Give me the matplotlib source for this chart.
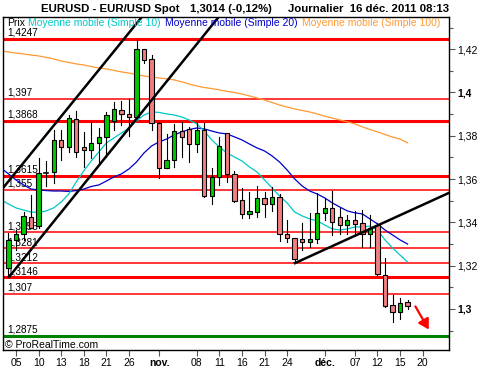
import numpy as np
import matplotlib
matplotlib.use("Agg")
import matplotlib.pyplot as plt
from matplotlib.patches import Rectangle

plt.rcParams['font.family'] = ['Liberation Sans', 'DejaVu Sans']

# daily candles, index 0 = 5 Oct 2011 (one step per trading day)
bar_idx = np.arange(-1, 53)
opens = [1.3188, 1.3319, 1.3345, 1.3426, 1.3385, 1.3633, 1.3631, 1.3781, 1.3750, 1.3876,
         1.3747, 1.3734, 1.3765, 1.3793, 1.3870, 1.3918, 1.3901, 1.3885, 1.4200, 1.4155,
         1.3858, 1.3653, 1.3687, 1.3821, 1.3830, 1.3761, 1.3825, 1.3523, 1.3611, 1.3812,
         1.3622, 1.3503, 1.3437, 1.3449, 1.3511, 1.3484, 1.3516, 1.3345, 1.3327, 1.3322,
         1.3311, 1.3322, 1.3442, 1.3465, 1.3424, 1.3387, 1.3410, 1.3396, 1.3345, 1.3387,
         1.3157, 1.3017, 1.2985, 1.3030]
highs = [1.3352, 1.3367, 1.3449, 1.3527, 1.3699, 1.3684, 1.3827, 1.3827, 1.3896, 1.3915,
         1.3816, 1.3862, 1.3837, 1.3911, 1.3954, 1.3961, 1.3970, 1.4242, 1.4201, 1.4173,
         1.3862, 1.3808, 1.3853, 1.3862, 1.3841, 1.3862, 1.3858, 1.3653, 1.3793, 1.3813,
         1.3637, 1.3558, 1.3542, 1.3568, 1.3542, 1.3564, 1.3531, 1.3411, 1.3328, 1.3396,
         1.3442, 1.3534, 1.3513, 1.3545, 1.3467, 1.3436, 1.3453, 1.3456, 1.3434, 1.3396,
         1.3234, 1.3065, 1.3049, 1.3042]
lows = [1.3148, 1.3273, 1.3319, 1.3373, 1.3373, 1.3570, 1.3581, 1.3688, 1.3724, 1.3703,
        1.3657, 1.3699, 1.3665, 1.3703, 1.3827, 1.3850, 1.3799, 1.3880, 1.4135, 1.3827,
        1.3606, 1.3649, 1.3656, 1.3703, 1.3680, 1.3724, 1.3519, 1.3484, 1.3573, 1.3588,
        1.3496, 1.3419, 1.3419, 1.3426, 1.3425, 1.3453, 1.3316, 1.3311, 1.3211, 1.3273,
        1.3286, 1.3306, 1.3413, 1.3342, 1.3346, 1.3346, 1.3339, 1.3286, 1.3286, 1.3157,
        1.3007, 1.2941, 1.2955, 1.3000]
closes = [1.3319, 1.3345, 1.3430, 1.3376, 1.3627, 1.3630, 1.3781, 1.3750, 1.3881, 1.3727,
          1.3733, 1.3768, 1.3793, 1.3896, 1.3922, 1.3899, 1.3885, 1.4200, 1.4149, 1.3858,
          1.3653, 1.3687, 1.3821, 1.3793, 1.3761, 1.3825, 1.3523, 1.3608, 1.3751, 1.3622,
          1.3501, 1.3437, 1.3453, 1.3511, 1.3484, 1.3516, 1.3345, 1.3327, 1.3230, 1.3311,
          1.3322, 1.3442, 1.3465, 1.3403, 1.3387, 1.3410, 1.3393, 1.3345, 1.3372, 1.3163,
          1.3015, 1.2985, 1.3026, 1.3014]

# moving averages
ma_idx = np.arange(-2, 53)
ma10 = [1.3504, 1.3485, 1.3467, 1.3457, 1.3448, 1.3446, 1.3453, 1.3467, 1.3494, 1.3531, 1.3587,
        1.3638, 1.3684, 1.3725, 1.3767, 1.3790, 1.3813, 1.3836, 1.3869, 1.3896, 1.3910,
        1.3908, 1.3901, 1.3896, 1.3887, 1.3873, 1.3855, 1.3822, 1.3781, 1.3748, 1.3721,
        1.3702, 1.3684, 1.3656, 1.3633, 1.3596, 1.3559, 1.3522, 1.3490, 1.3448, 1.3430,
        1.3416, 1.3407, 1.3388, 1.3370, 1.3365, 1.3370, 1.3379, 1.3379, 1.3383, 1.3365,
        1.3319, 1.3282, 1.3249, 1.3217]
ma20 = [1.3651, 1.3624, 1.3596, 1.3573, 1.3554, 1.3550, 1.3547, 1.3545, 1.3545, 1.3543, 1.3547,
        1.3554, 1.3566, 1.3573, 1.3591, 1.3610, 1.3624, 1.3647, 1.3679, 1.3721, 1.3753,
        1.3772, 1.3785, 1.3804, 1.3818, 1.3829, 1.3836, 1.3832, 1.3822, 1.3813, 1.3809,
        1.3795, 1.3781, 1.3762, 1.3744, 1.3730, 1.3707, 1.3679, 1.3642, 1.3601, 1.3568,
        1.3545, 1.3531, 1.3513, 1.3490, 1.3471, 1.3453, 1.3444, 1.3439, 1.3416, 1.3393,
        1.3365, 1.3342, 1.3319, 1.3300]
ma100 = [1.4192, 1.4187, 1.4182, 1.4178, 1.4173, 1.4169, 1.4162, 1.4155, 1.4145, 1.4139, 1.4132,
         1.4127, 1.4120, 1.4113, 1.4109, 1.4102, 1.4095, 1.4090, 1.4083, 1.4076, 1.4072,
         1.4067, 1.4063, 1.4058, 1.4049, 1.4039, 1.4030, 1.4023, 1.4018, 1.4012, 1.4005,
         1.4000, 1.3993, 1.3984, 1.3975, 1.3965, 1.3954, 1.3942, 1.3933, 1.3924, 1.3917,
         1.3910, 1.3901, 1.3891, 1.3882, 1.3873, 1.3864, 1.3855, 1.3841, 1.3829, 1.3818,
         1.3806, 1.3794, 1.3785, 1.3767]

# support / resistance levels
levels = [1.4247, 1.397, 1.3868, 1.3615, 1.355, 1.3355, 1.3281, 1.3212, 1.3146, 1.307]
level_labels = ['1,4247', '1,397', '1,3868', '1,3615', '1,355', '1,3355', '1,3281', '1,3212', '1,3146', '1,307']
thick_levels = [1.4247, 1.3868, 1.3615, 1.3146]
support = 1.2875

# trend lines (bar index, price)
trend_lines = [((-1.7, 1.3560), (17.2, 1.4370)),
               ((-0.93, 1.3148), (27.4, 1.4370)),
               ((37.05, 1.3212), (57.6, 1.3538))]
arrow_from = (52.85, 1.3023)
arrow_to = (55.0, 1.2894)

xtick_pos = [0, 3, 6, 9, 12, 15, 19, 24, 27, 30, 33, 36, 41, 45, 48, 51, 54]
xtick_lab = ['05', '10', '13', '18', '21', '26', 'nov.', '08', '11', '16', '21', '24',
             'déc.', '07', '12', '15', '20']
ytick_pos = [1.30, 1.32, 1.34, 1.36, 1.38, 1.40, 1.42]
ytick_lab = ['1,3', '1,32', '1,34', '1,36', '1,38', '1,4', '1,42']

GREEN = '#00C800'
PINK = '#F08080'
C10 = '#00C8C8'
C20 = '#0000C8'
C100 = '#FF9933'

fig = plt.figure(figsize=(5, 3.7), dpi=100)
ax = fig.add_axes([3 / 500, 20 / 370, 446 / 500, 333 / 370])
ax.set_xlim(-1.73, 57.5)
ax.set_ylim(1.28106, 1.43487)

# horizontal levels
for lv, lab in zip(levels, level_labels):
    lw = 2.2 if lv in thick_levels else 1.1
    ax.axhline(lv, color='red', lw=lw, zorder=1)
    ax.text(-1.2, lv + 0.0005, lab, fontsize=7.2, ha='left', va='bottom', zorder=1.5)
ax.axhline(support, color='#008000', lw=2.2, zorder=1)
ax.text(-1.2, support + 0.0005, '1,2875', fontsize=7.2, ha='left', va='bottom', zorder=1.5)

# moving averages
ax.plot(ma_idx, ma100, color=C100, lw=0.9, zorder=2)
ax.plot(ma_idx, ma20, color=C20, lw=0.9, zorder=2)
ax.plot(ma_idx, ma10, color=C10, lw=0.9, zorder=2)

# candles
w = 0.57
for i, o, h, l, c in zip(bar_idx, opens, highs, lows, closes):
    ax.plot([i, i], [l, h], color='black', lw=0.8, zorder=3)
    if abs(c - o) < 0.0006:
        ax.plot([i - w / 2, i + w / 2], [c, c], color='black', lw=1.2, zorder=3.1)
        continue
    col = GREEN if c > o else PINK
    ax.add_patch(Rectangle((i - w / 2, min(o, c)), w, abs(c - o), facecolor=col,
                           edgecolor='black', lw=0.8, zorder=3.1))

# trend lines and arrow
for (x0, y0), (x1, y1) in trend_lines:
    ax.plot([x0, x1], [y0, y1], color='black', lw=1.8, zorder=4)
ax.annotate('', xy=arrow_to, xytext=arrow_from,
            arrowprops=dict(arrowstyle='-|>,head_length=0.6,head_width=0.35', color='red', lw=1.6),
            zorder=4)

# axes styling
for s in ax.spines.values():
    s.set_color('black')
    s.set_linewidth(1.0)
ax.yaxis.tick_right()
ax.set_yticks(ytick_pos, ytick_lab)
ax.set_yticks([1.29, 1.31, 1.33, 1.35, 1.37, 1.39, 1.41, 1.43], minor=True)
ax.set_xticks(xtick_pos, xtick_lab)
ax.tick_params(axis='y', which='major', length=4, width=0.8, labelsize=7.5, pad=2, colors='#555555', labelcolor='black')
ax.tick_params(axis='y', which='minor', length=3, width=0.8, colors='#555555')
ax.tick_params(axis='x', which='major', length=4, width=0.8, labelsize=7.5, pad=2, colors='#555555', labelcolor='black')
for t in ax.get_yticklabels():
    if t.get_text() in ('1,4', '1,3'):
        t.set_fontweight('bold')
for t in ax.get_xticklabels():
    if t.get_text() in ('nov.', 'déc.'):
        t.set_fontweight('bold')

# legend line
ly = 1 - 23 / 370
fig.text(7 / 500, ly, 'Prix', fontsize=7.5, va='center', color='black')
fig.text(28 / 500, ly, 'Moyenne mobile (Simple 10)', fontsize=7.5, va='center', color=C10)
fig.text(165 / 500, ly, 'Moyenne mobile (Simple 20)', fontsize=7.5, va='center', color=C20)
fig.text(302 / 500, ly, 'Moyenne mobile (Simple 100)', fontsize=7.5, va='center', color=C100)

# title
ty = 1 - 9 / 370
fig.text(41 / 500, ty, 'EURUSD - EUR/USD Spot', fontsize=8.2, weight='bold', va='center')
fig.text(190 / 500, ty, '1,3014 (-0,12%)', fontsize=8.2, weight='bold', va='center')
fig.text(288 / 500, ty, 'Journalier  16 déc. 2011 08:13', fontsize=8.2, weight='bold', va='center')

fig.text(5 / 500, 1 - 345 / 370, '© ProRealTime.com', fontsize=7.5, va='center')

fig.savefig('out.png', dpi=100)
